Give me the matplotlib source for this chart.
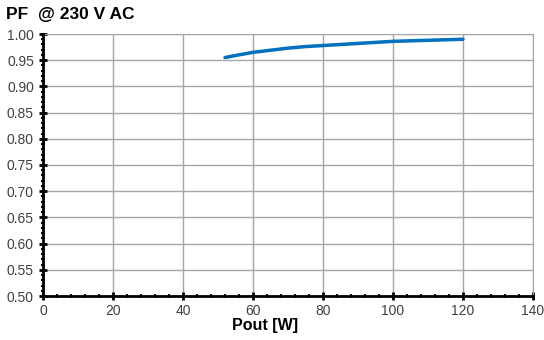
import matplotlib.pyplot as plt
from matplotlib.ticker import MultipleLocator

# PF vs output power at 230 V AC
pout = [52, 55, 60, 65, 70, 75, 80, 85, 90, 95, 100, 105, 110, 115, 120]
pf = [0.955, 0.959, 0.965, 0.969, 0.973, 0.976, 0.978, 0.980, 0.982, 0.984, 0.986, 0.987, 0.988, 0.989, 0.990]

fig = plt.figure(figsize=(5.44, 3.4), dpi=100)
ax = fig.add_axes([43 / 544, 44 / 340, 490 / 544, 262 / 340])

ax.plot(pout, pf, color="#0070c0", linewidth=2.5, solid_capstyle="round")

ax.set_xlim(0, 140)
ax.set_ylim(0.50, 1.00)
ax.xaxis.set_major_locator(MultipleLocator(20))
ax.xaxis.set_minor_locator(MultipleLocator(4))
ax.yaxis.set_major_locator(MultipleLocator(0.05))
ax.yaxis.set_minor_locator(MultipleLocator(0.01))
ax.yaxis.set_major_formatter(lambda v, p: f"{v:.2f}")

ax.grid(True, which="major", color="#a6a6a6", linewidth=1)
for s in ["top", "right"]:
    ax.spines[s].set_color("#a6a6a6")
for s in ["left", "bottom"]:
    ax.spines[s].set_linewidth(2)
    ax.spines[s].set_zorder(5)

ax.tick_params(which="major", direction="inout", length=6, width=2, labelsize=10,
               labelcolor="#404040")
ax.tick_params(which="minor", direction="inout", length=3, width=1.5)
ax.tick_params(axis="x", pad=3)

for lab in ax.get_xticklabels() + ax.get_yticklabels():
    lab.set_family("Liberation Sans")

ax.set_xlabel("Pout [W]", fontsize=11.5, fontweight="bold", family="Liberation Sans",
              labelpad=2)
ax.xaxis.set_label_coords((265 - 43) / 490, -0.085)
fig.text(6 / 544, 1 - 14 / 340, "PF  @ 230 V AC", fontsize=12.5, fontweight="bold",
         family="Liberation Sans", va="center")

fig.savefig("out.png", dpi=100)
